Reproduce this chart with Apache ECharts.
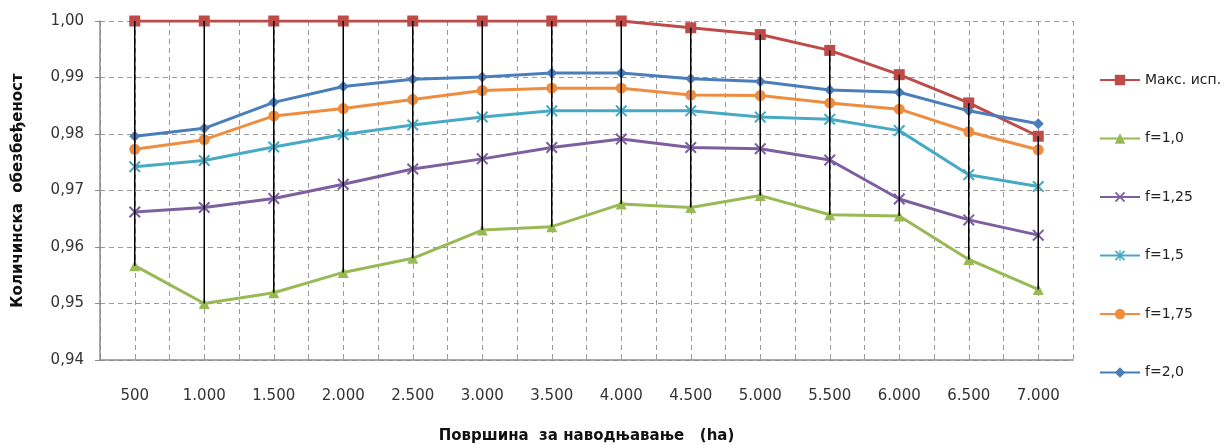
<!DOCTYPE html>
<html>
<head>
<meta charset="utf-8">
<script src="https://cdn.jsdelivr.net/npm/echarts@6/dist/echarts.min.js"></script>
<style>
html,body{margin:0;padding:0;background:#fff;}
#chart{width:1227px;height:445px;}
</style>
</head>
<body>
<div id="chart"></div>
<script>
const categories = ['500','1.000','1.500','2.000','2.500','3.000','3.500','4.000','4.500','5.000','5.500','6.000','6.500','7.000'];
const maxIsp = [1.000,1.000,1.000,1.000,1.000,1.000,1.000,1.000,0.9988,0.9976,0.9948,0.9905,0.9855,0.9796];
const f10  = [0.9567,0.9500,0.9519,0.9555,0.9580,0.9630,0.9636,0.9676,0.9670,0.9691,0.9657,0.9655,0.9578,0.9525];
const f125 = [0.9662,0.9670,0.9686,0.9711,0.9738,0.9756,0.9776,0.9791,0.9776,0.9774,0.9754,0.9685,0.9648,0.9621];
const f15  = [0.9742,0.9753,0.9777,0.9799,0.9816,0.9830,0.9841,0.9841,0.9841,0.9830,0.9826,0.9806,0.9728,0.9707];
const f175 = [0.9773,0.9790,0.9832,0.9845,0.9861,0.9877,0.9881,0.9881,0.9869,0.9868,0.9855,0.9844,0.9804,0.9772];
const f20  = [0.9796,0.9810,0.9856,0.9884,0.9897,0.9901,0.9908,0.9908,0.9898,0.9893,0.9878,0.9874,0.9841,0.9818];
const seriesNames = ['Макс. исп.','f=1,0','f=1,25','f=1,5','f=1,75','f=2,0'];

const FONT = 'DejaVu Sans';
const xSym = 'path://M0,1.2L1.2,0L10,8.8L8.8,10Z M8.8,0L10,1.2L1.2,10L0,8.8Z';
const starSym = 'path://M0,1.2L1.2,0L10,8.8L8.8,10Z M8.8,0L10,1.2L1.2,10L0,8.8Z M4.4,0L5.6,0L5.6,10L4.4,10Z';

function lineSeries(name, data, color, symbol, size) {
  return {
    name: name, type: 'line', data: data, xAxisIndex: 0,
    symbol: symbol, symbolSize: size,
    lineStyle: {color: color, width: 3},
    itemStyle: {color: color, borderColor: color, borderWidth: 0},
    emphasis: {disabled: true},
    animation: false
  };
}

const hiLow = categories.map((c, i) => [i, f10[i], maxIsp[i]]);

const chart = echarts.init(document.getElementById('chart'));
chart.setOption({
  animation: false,
  grid: {left: 100, right: 154, top: 21, bottom: 85, containLabel: false, outerBoundsMode: 'none'},
  legend: {
    data: seriesNames,
    orient: 'vertical',
    left: 1094, top: 68,
    itemWidth: 40, itemHeight: 13, itemGap: 44.5,
    textStyle: {fontFamily: FONT, fontSize: 14, color: '#222'}
  },
  xAxis: [{
    type: 'category', data: categories, boundaryGap: true,
    name: 'Површина  за наводњавање   (ha)', nameLocation: 'middle', nameGap: 69,
    nameTextStyle: {fontFamily: FONT, fontSize: 15, fontWeight: 'bold', color: '#111'},
    axisLine: {lineStyle: {color: '#8a8a8a', width: 1.5}},
    axisTick: {show: false},
    axisLabel: {fontFamily: FONT, fontSize: 15, color: '#333', margin: 29, interval: 0},
    splitLine: {show: false}
  }, {
    type: 'value', min: 0, max: 14, interval: 0.5, show: true,
    axisLine: {show: false}, axisTick: {show: false}, axisLabel: {show: false},
    splitLine: {show: true, lineStyle: {color: '#9a9a9a', type: [5, 4], width: 1}}
  }],
  yAxis: {
    type: 'value', min: 0.94, max: 1.00, interval: 0.01,
    name: 'Количинска  обезбеђеност', nameLocation: 'middle', nameGap: 74, nameRotate: 90,
    nameTextStyle: {fontFamily: FONT, fontSize: 15, fontWeight: 'bold', color: '#111'},
    axisLine: {show: true, lineStyle: {color: '#8a8a8a', width: 1.5}},
    axisTick: {show: true, length: 5, lineStyle: {color: '#8a8a8a'}},
    axisLabel: {fontFamily: FONT, fontSize: 15, color: '#333', margin: 16,
      formatter: v => v.toFixed(2).replace('.', ',')},
    splitLine: {show: true, lineStyle: {color: '#9a9a9a', type: [5, 4], width: 1}}
  },
  series: [
    lineSeries(seriesNames[0], maxIsp, '#BE4B48', 'rect', 11),
    lineSeries(seriesNames[1], f10, '#98B954', 'triangle', 11),
    lineSeries(seriesNames[2], f125, '#7D5FA0', xSym, 12),
    lineSeries(seriesNames[3], f15, '#46AAC5', starSym, 12),
    lineSeries(seriesNames[4], f175, '#EE8D3F', 'circle', 11),
    lineSeries(seriesNames[5], f20, '#4A7EBB', 'diamond', 11),
    {
      type: 'custom', name: 'hilo', xAxisIndex: 0, z: 10, silent: true,
      data: hiLow,
      encode: {x: 0, y: [1, 2]},
      renderItem: function (params, api) {
        const p1 = api.coord([api.value(0), api.value(1)]);
        const p2 = api.coord([api.value(0), api.value(2)]);
        return {type: 'line', shape: {x1: p1[0], y1: p1[1], x2: p2[0], y2: p2[1]},
          style: {stroke: '#000', lineWidth: 1.5}};
      }
    }
  ]
});
</script>
</body>
</html>
